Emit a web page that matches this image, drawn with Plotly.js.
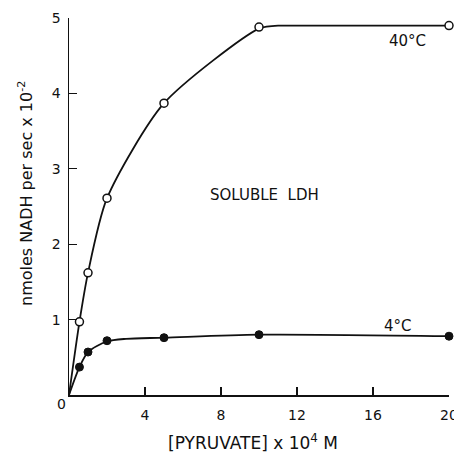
<!DOCTYPE html>
<html>
<head>
<meta charset="utf-8">
<script src="https://cdn.plot.ly/plotly-3.0.1.min.js"></script>
<style>
  html, body { margin: 0; padding: 0; background: #fff; }
  #chart { width: 454px; height: 458px; }
</style>
</head>
<body>
<div id="chart"></div>
<script>
// Pyruvate concentration (x 10^4 M) for the measured points
var pyruvate = [0.55, 1.0, 2.0, 5.0, 10.0, 20.0];
// Rate, nmoles NADH per sec x 10^-2
var rate40 = [0.97, 1.62, 2.61, 3.87, 4.88, 4.90];
var rate4 = [0.37, 0.57, 0.72, 0.76, 0.80, 0.78];

// Hand-drawn fitted curves through the data (40°C: rising part, then plateau)
var curve40X = [0, 0.55, 1.0, 2.0, 5.0, 10.0, 11.0];
var curve40Y = [0, 0.97, 1.62, 2.61, 3.87, 4.86, 4.90];
var plateau40X = [11.0, 20.0];
var plateau40Y = [4.90, 4.90];
var curve4X = [0, 0.55, 1.0, 2.0, 3.0, 5.0, 10.0, 20.0];
var curve4Y = [0, 0.37, 0.57, 0.71, 0.745, 0.76, 0.80, 0.78];

var xTicks = [0, 4, 8, 12, 16, 20];
var xTickText = ['', '4', '8', '12', '16', '20'];
var yTicks = [0, 1, 2, 3, 4, 5];
var yTickText = ['', '1', '2', '3', '4', '5'];

var FONT = 'DejaVu Sans, Arial, sans-serif';
var INK = '#111';

var traces = [
  { x: curve40X, y: curve40Y, mode: 'lines', line: { color: INK, width: 1.8, shape: 'spline', smoothing: 0.7 },
    hoverinfo: 'skip', showlegend: false, cliponaxis: false },
  { x: plateau40X, y: plateau40Y, mode: 'lines', line: { color: INK, width: 1.8 },
    hoverinfo: 'skip', showlegend: false, cliponaxis: false },
  { x: curve4X, y: curve4Y, mode: 'lines', line: { color: INK, width: 1.8, shape: 'spline', smoothing: 0.8 },
    hoverinfo: 'skip', showlegend: false, cliponaxis: false },
  { x: pyruvate, y: rate40, mode: 'markers', name: '40°C',
    marker: { symbol: 'circle', size: 8, color: '#fff', line: { color: INK, width: 1.5 } },
    showlegend: false, cliponaxis: false },
  { x: pyruvate, y: rate4, mode: 'markers', name: '4°C',
    marker: { symbol: 'circle', size: 8, color: INK, line: { color: INK, width: 1 } },
    showlegend: false, cliponaxis: false }
];

var layout = {
  width: 454, height: 458,
  margin: { l: 69, r: 5, t: 18, b: 63 },
  paper_bgcolor: '#fff', plot_bgcolor: '#fff',
  font: { family: FONT, size: 14, color: INK },
  showlegend: false,
  xaxis: {
    range: [0, 20], showgrid: false, zeroline: false,
    showline: true, linecolor: INK, linewidth: 1.5,
    ticks: 'inside', ticklen: 8, tickwidth: 1.3, tickcolor: INK,
    tickvals: xTicks, ticktext: xTickText, ticklabelstandoff: 7,
    ticklabeloverflow: 'allow',
    tickfont: { family: FONT, size: 14, color: INK },
    title: { text: '' }
  },
  yaxis: {
    range: [0, 5], showgrid: false, zeroline: false,
    showline: true, linecolor: INK, linewidth: 1.5,
    ticks: 'inside', ticklen: 8, tickwidth: 1.3, tickcolor: INK,
    tickvals: yTicks, ticktext: yTickText, ticklabelstandoff: 4,
    tickfont: { family: FONT, size: 14, color: INK },
    title: { text: '' }
  },
  annotations: [
    { xref: 'paper', yref: 'paper', x: (61 - 69) / 380, y: -(404 - 395) / 377, xanchor: 'center', yanchor: 'middle',
      text: '0', showarrow: false, font: { family: FONT, size: 14, color: INK } },
    { xref: 'x', yref: 'y', x: 17.84, y: 4.69, text: '40°C', showarrow: false,
      font: { family: FONT, size: 15, color: INK } },
    { xref: 'x', yref: 'y', x: 17.3, y: 0.915, text: '4°C', showarrow: false,
      font: { family: FONT, size: 15, color: INK } },
    { xref: 'x', yref: 'y', x: 10.3, y: 2.65, text: 'SOLUBLE  LDH', showarrow: false,
      font: { family: FONT, size: 15, color: INK } },
    { xref: 'paper', yref: 'paper', x: (253 - 69) / 380, y: -(442 - 395) / 377, yanchor: 'middle',
      text: '[PYRUVATE] x 10<sup>4</sup> M', showarrow: false,
      font: { family: FONT, size: 17, color: INK } },
    { xref: 'paper', yref: 'paper', x: -(69 - 25) / 380, y: (395 - 194) / 377, xanchor: 'center', yanchor: 'middle',
      textangle: -90, text: 'nmoles NADH per sec x 10<sup>-2</sup>', showarrow: false,
      font: { family: FONT, size: 16, color: INK } }
  ]
};

Plotly.newPlot('chart', traces, layout, { displayModeBar: false, staticPlot: true });
</script>
</body>
</html>
